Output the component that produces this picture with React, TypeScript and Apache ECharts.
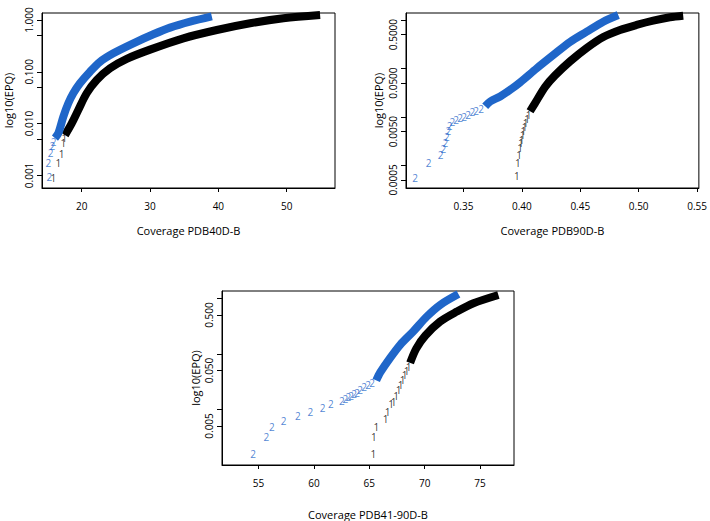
import React, { useEffect, useRef } from 'react';
import * as echarts from 'echarts';

// ---------- Panel A: Coverage PDB40D-B ----------
const aXTicks = [20, 30, 40, 50];
const aYTicks = [1, 0.5, 0.1, 0.05, 0.01, 0.005, 0.001];
const aYLabels = [1, 0.1, 0.01, 0.001];
const a1PtsX = [15.84, 16.58, 17.07, 17.31, 17.45];
const a1PtsY = [0.0009, 0.00176, 0.00259, 0.00417, 0.0052];
const a1LineX = [17.56, 18.54, 19.5, 20.73, 22.2, 24.15, 26.59, 30.0, 34.88, 39.77, 44.64, 49.52, 54.89];
const a1LineY = [0.006, 0.0101, 0.0183, 0.0385, 0.0695, 0.117, 0.178, 0.268, 0.443, 0.641, 0.864, 1.08, 1.25];
const a2PtsX = [15.26, 15.11, 15.46, 15.7, 15.9];
const a2PtsY = [0.00092, 0.00176, 0.00267, 0.00374, 0.0045];
const a2LineX = [16.09, 16.58, 17.31, 18.04, 18.77, 19.75, 21.22, 22.68, 24.63, 27.56, 30.49, 32.93, 35.86, 39.04];
const a2LineY = [0.00527, 0.0065, 0.0136, 0.0247, 0.0385, 0.06, 0.1005, 0.156, 0.228, 0.355, 0.53, 0.713, 0.931, 1.18];

// ---------- Panel B: Coverage PDB90D-B ----------
const bXTicks = [0.35, 0.4, 0.45, 0.5, 0.55];
const bYTicks = [1, 0.5, 0.1, 0.05, 0.01, 0.005, 0.001, 0.0005];
const bYLabels = [0.5, 0.05, 0.005, 0.0005];
const b1PtsX = [0.3957, 0.3966, 0.3976, 0.3985, 0.3992, 0.3998, 0.4006, 0.4013, 0.4023, 0.4032, 0.4045, 0.4058];
const b1PtsY = [0.000594, 0.00112, 0.00166, 0.00228, 0.0029, 0.00338, 0.00429, 0.00519, 0.00627, 0.00757, 0.00916, 0.0111];
const b1LineX = [0.407, 0.4113, 0.4199, 0.4284, 0.4412, 0.4555, 0.4697, 0.484, 0.4982, 0.5124, 0.5267, 0.5381];
const b1LineY = [0.0131, 0.0193, 0.0418, 0.072, 0.14, 0.265, 0.447, 0.622, 0.789, 0.968, 1.137, 1.226];
const b2PtsX = [0.3087, 0.3201, 0.3304, 0.3327, 0.3344, 0.3357, 0.337, 0.3382, 0.3404, 0.3438, 0.3472, 0.3506, 0.354, 0.3575, 0.3609, 0.3652];
const b2PtsY = [0.00055, 0.00111, 0.00166, 0.00221, 0.00294, 0.0039, 0.00519, 0.00657, 0.00794, 0.00873, 0.00938, 0.0101, 0.0111, 0.0128, 0.0134, 0.0147];
const b2LineX = [0.3686, 0.3729, 0.3814, 0.39, 0.3985, 0.4128, 0.427, 0.4412, 0.4555, 0.4697, 0.4825];
const b2LineY = [0.0166, 0.0208, 0.0264, 0.0362, 0.0517, 0.101, 0.19, 0.352, 0.574, 0.923, 1.27];

// ---------- Panel C: Coverage PDB41-90D-B ----------
const cXTicks = [55, 60, 65, 70, 75];
const cYTicks = [1, 0.5, 0.1, 0.05, 0.01, 0.005];
const cYLabels = [0.5, 0.05, 0.005];
const c1PtsX = [65.38, 65.42, 65.63, 66.48, 66.66, 66.98, 67.206, 67.43, 67.657, 67.837, 68.018, 68.198, 68.379, 68.559];
const c1PtsY = [0.00156, 0.00311, 0.00477, 0.00662, 0.009, 0.0123, 0.01334, 0.0171, 0.0219, 0.0269, 0.033, 0.0406, 0.0499, 0.0589];
const c1LineX = [68.69, 69.24, 70.05, 71.4, 72.91, 74.41, 76.66];
const c1LineY = [0.0686, 0.124, 0.211, 0.381, 0.575, 0.813, 1.146];
const c2PtsX = [54.5, 55.7, 56.21, 57.26, 58.56, 59.67, 60.78, 61.54, 62.53, 62.83, 63.1, 63.37, 63.64, 63.91, 64.18, 64.54, 64.9, 65.26];
const c2PtsY = [0.00156, 0.00311, 0.0047, 0.00618, 0.00759, 0.0091, 0.0107, 0.0123, 0.0141, 0.0154, 0.0164, 0.0174, 0.0186, 0.0197, 0.0219, 0.0248, 0.0269, 0.0292];
const c2LineX = [65.63, 65.99, 66.89, 67.79, 68.99, 70.2, 71.4, 73.05];
const c2LineY = [0.033, 0.046, 0.0843, 0.145, 0.255, 0.469, 0.759, 1.19];

const BLUE = '#1f66c9';
const BLACK = '#000000';
const FONT = "'Open Sans', sans-serif";

const toPts = (xs: number[], ys: number[]) => xs.map((x, k) => [x, Math.log10(ys[k])]);

export default function App() {
  const ref = useRef<HTMLDivElement>(null);
  useEffect(() => {
    const chart = echarts.init(ref.current!, undefined, { renderer: 'svg' });
    const panels = [
      {
        grid: { left: 42, top: 13, width: 293, height: 175 },
        xr: [14.19, 57.07], yr: [-3.243, 0.135],
        xTicks: aXTicks, yTicks: aYTicks, yLabels: aYLabels, xDec: 0, yDec: 3,
        xName: 'Coverage PDB40D-B', xGap: 37, yGap: 28,
        s1p: [a1PtsX, a1PtsY], s1l: [a1LineX, a1LineY], s2p: [a2PtsX, a2PtsY], s2l: [a2LineX, a2LineY],
      },
      {
        grid: { left: 406, top: 13, width: 293, height: 175 },
        xr: [0.3008, 0.5515], yr: [-3.466, 0.144],
        xTicks: bXTicks, yTicks: bYTicks, yLabels: bYLabels, xDec: 2, yDec: 4,
        xName: 'Coverage PDB90D-B', xGap: 37, yGap: 22,
        s1p: [b1PtsX, b1PtsY], s1l: [b1LineX, b1LineY], s2p: [b2PtsX, b2PtsY], s2l: [b2LineX, b2LineY],
      },
      {
        grid: { left: 222, top: 291, width: 292, height: 174 },
        xr: [51.7, 78.07], yr: [-3.005, 0.131],
        xTicks: cXTicks, yTicks: cYTicks, yLabels: cYLabels, xDec: 0, yDec: 3,
        xName: 'Coverage PDB41-90D-B', xGap: 44, yGap: 21,
        s1p: [c1PtsX, c1PtsY], s1l: [c1LineX, c1LineY], s2p: [c2PtsX, c2PtsY], s2l: [c2LineX, c2LineY],
      },
    ];

    const grids: any[] = [];
    const xAxes: any[] = [];
    const yAxes: any[] = [];
    const series: any[] = [];
    panels.forEach((p, i) => {
      grids.push({ ...p.grid, show: true, borderColor: '#000', borderWidth: 1, containLabel: false });
      xAxes.push({
        gridIndex: i, type: 'value', min: p.xr[0], max: p.xr[1], position: 'bottom',
        name: p.xName, nameLocation: 'middle', nameGap: p.xGap,
        nameTextStyle: { fontSize: 11, color: '#000', fontFamily: FONT },
        axisLine: { show: true, onZero: false, lineStyle: { color: '#000', width: 1 } },
        axisTick: { show: true, length: 4, lineStyle: { color: '#000' }, customValues: p.xTicks },
        axisLabel: {
          show: true, margin: 13, fontSize: 10, color: '#000', fontFamily: FONT,
          customValues: p.xTicks, formatter: (v: number) => v.toFixed(p.xDec),
        },
        splitLine: { show: false },
      });
      yAxes.push({
        gridIndex: i, type: 'value', min: p.yr[0], max: p.yr[1], position: 'left',
        name: 'log10(EPQ)', nameLocation: 'middle', nameGap: p.yGap, nameRotate: 90,
        nameTextStyle: { fontSize: 11, color: '#000', fontFamily: FONT },
        axisLine: { show: true, onZero: false, lineStyle: { color: '#000', width: 1 } },
        axisTick: { show: true, length: 5, lineStyle: { color: '#000' }, customValues: p.yTicks.map((v) => Math.log10(v)) },
        axisLabel: {
          show: true, rotate: 90, margin: 8, fontSize: 10, color: '#000', fontFamily: FONT,
          customValues: p.yLabels.map((v) => Math.log10(v)),
          formatter: (v: number) => Math.pow(10, v).toFixed(p.yDec),
        },
        splitLine: { show: false },
      });
      const band = (xy: number[][], color: string) => ({
        type: 'line', xAxisIndex: i, yAxisIndex: i, data: toPts(xy[0], xy[1]),
        symbol: 'none', smooth: 0.3, lineStyle: { color, width: 8, cap: 'butt' }, silent: true, z: 2,
      });
      const chars = (xy: number[][], color: string, ch: string) => ({
        type: 'scatter', xAxisIndex: i, yAxisIndex: i, data: toPts(xy[0], xy[1]),
        symbol: 'circle', symbolSize: 1, itemStyle: { color: 'transparent' }, silent: true, z: 3,
        label: { show: true, position: 'inside', formatter: ch, fontSize: 10, color, fontFamily: FONT },
      });
      series.push(band(p.s1l, BLACK), chars(p.s1p, BLACK, '1'), band(p.s2l, BLUE), chars(p.s2p, BLUE, '2'));
    });

    chart.setOption({
      animation: false,
      backgroundColor: '#ffffff',
      textStyle: { fontFamily: FONT },
      grid: grids,
      xAxis: xAxes,
      yAxis: yAxes,
      series,
    });
    return () => chart.dispose();
  }, []);
  return <div ref={ref} style={{ position: 'absolute', left: 0, top: 0, width: 710, height: 521 }} />;
}
